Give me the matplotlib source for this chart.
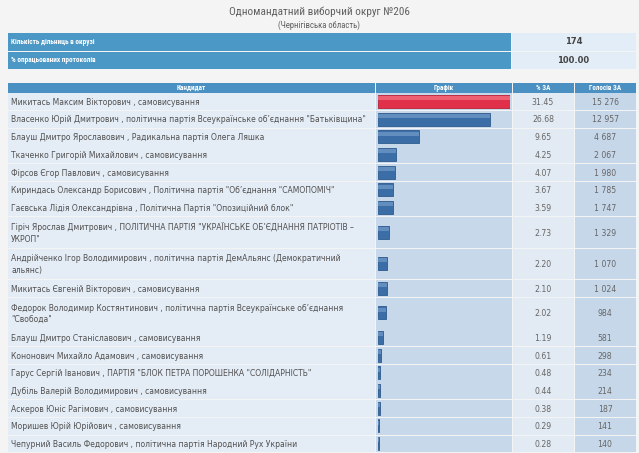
import matplotlib
matplotlib.use("Agg")
import matplotlib.pyplot as plt
from matplotlib.patches import Rectangle

# ---------------- data ----------------
title = "Одномандатний виборчий округ №206"
subtitle = "(Чернігівська область)"
summary_labels = ["Кількість дільниць в окрузі", "% опрацьованих протоколів"]
summary_values = ["174", "100.00"]
headers = ["Кандидат", "Графік", "% ЗА", "Голосів ЗА"]

candidates = [
    "Микитась Максим Вікторович , самовисування",
    "Власенко Юрій Дмитрович , політична партія Всеукраїнське об’єднання \"Батьківщина\"",
    "Блауш Дмитро Ярославович , Радикальна партія Олега Ляшка",
    "Ткаченко Григорій Михайлович , самовисування",
    "Фірсов Єгор Павлович , самовисування",
    "Кириндась Олександр Борисович , Політична партія \"Об’єднання \"САМОПОМІЧ\"",
    "Гаєвська Лідія Олександрівна , Політична Партія \"Опозиційний блок\"",
    "Гіріч Ярослав Дмитрович , ПОЛІТИЧНА ПАРТІЯ \"УКРАЇНСЬКЕ ОБ’ЄДНАННЯ ПАТРІОТІВ –\nУКРОП\"",
    "Андрійченко Ігор Володимирович , політична партія ДемАльянс (Демократичний\nальянс)",
    "Микитась Євгеній Вікторович , самовисування",
    "Федорок Володимир Костянтинович , політична партія Всеукраїнське об’єднання\n\"Свобода\"",
    "Блауш Дмитро Станіславович , самовисування",
    "Кононович Михайло Адамович , самовисування",
    "Гарус Сергій Іванович , ПАРТІЯ \"БЛОК ПЕТРА ПОРОШЕНКА \"СОЛІДАРНІСТЬ\"",
    "Дубіль Валерій Володимирович , самовисування",
    "Аскеров Юніс Рагімович , самовисування",
    "Моришев Юрій Юрійович , самовисування",
    "Чепурний Василь Федорович , політична партія Народний Рух України",
]
pct = [31.45, 26.68, 9.65, 4.25, 4.07, 3.67, 3.59, 2.73, 2.20, 2.10, 2.02,
       1.19, 0.61, 0.48, 0.44, 0.38, 0.29, 0.28]
votes = [15276, 12957, 4687, 2067, 1980, 1785, 1747, 1329, 1070, 1024, 984,
         581, 298, 234, 214, 187, 141, 140]

# ---------------- layout (pixels) ----------------
W, H = 639, 453
fig = plt.figure(figsize=(W / 100, H / 100), dpi=100)
fig.patch.set_facecolor("#f4f4f4")
ax = fig.add_axes([0, 0, 1, 1])
ax.set_xlim(0, W)
ax.set_ylim(H, 0)
ax.axis("off")

NARROW = ["Liberation Sans Narrow", "Roboto Condensed", "Roboto", "DejaVu Sans"]
BODY = ["DejaVu Sans"]

ax.text(W / 2, 12, title, ha="center", va="center", fontsize=8.1,
        color="#606060", family=NARROW)
ax.text(W / 2, 25, subtitle, ha="center", va="center", fontsize=6.2,
        color="#606060", family=NARROW)

# summary table
X0, XS, X1 = 8, 511, 636
sum_rows = [(33, 51), (51.8, 69)]
for (y0, y1), lab, val in zip(sum_rows, summary_labels, summary_values):
    ax.add_patch(Rectangle((X0, y0), XS - X0, y1 - y0, facecolor="#4b98c6",
                           edgecolor="none"))
    ax.add_patch(Rectangle((XS + 0.8, y0), X1 - XS - 0.8, y1 - y0,
                           facecolor="#e3edf7", edgecolor="none"))
    ax.text(X0 + 3, (y0 + y1) / 2, lab, ha="left", va="center", fontsize=5.25,
            color="white", fontweight="bold", family=NARROW)
    ax.text((XS + X1) / 2, (y0 + y1) / 2, val, ha="center", va="center",
            fontsize=6.0, color="#444444", fontweight="bold", family=BODY)

# main table columns
cols = [8, 375, 512, 574, 636]
col_bg = ["#e4ecf5", "#c7d8ea", "#e2eaf3", "#c6d7e9"]
HY0, HY1 = 83, 92.5
for i, h in enumerate(headers):
    ax.add_patch(Rectangle((cols[i] + (0.8 if i else 0), HY0),
                           cols[i + 1] - cols[i] - (0.8 if i else 0),
                           HY1 - HY0, facecolor="#4a90c2", edgecolor="none"))
    ax.text((cols[i] + cols[i + 1]) / 2, (HY0 + HY1) / 2 + 0.3, h,
            ha="center", va="center", fontsize=5.1, color="white",
            fontweight="bold", family=NARROW)

SINGLE, DOUBLE = 17.7, 31.5
tops, centers = [], []
y = HY1
for c in candidates:
    h = DOUBLE if "\n" in c else SINGLE
    tops.append(y)
    centers.append(y + h / 2)
    y += h
bottoms = tops[1:] + [y]

for i, c in enumerate(candidates):
    y0, y1 = tops[i] + 0.8, bottoms[i]
    for j in range(4):
        xa = cols[j] + (0.8 if j else 0)
        ax.add_patch(Rectangle((xa, y0), cols[j + 1] - xa, y1 - y0,
                               facecolor=col_bg[j], edgecolor="none"))
    cy = (y0 + y1) / 2 + 0.5
    ax.text(cols[0] + 3, cy, c, ha="left", va="center", fontsize=5.5,
            color="#505050", family=BODY, linespacing=1.3)
    ax.text((cols[2] + cols[3]) / 2, cy, f"{pct[i]:.2f}", ha="center",
            va="center", fontsize=5.6, color="#666666", family=BODY)
    ax.text((cols[3] + cols[4]) / 2, cy, f"{votes[i]:,}".replace(",", " "),
            ha="center", va="center", fontsize=5.6, color="#666666",
            family=BODY)

# bars axis over the graph column
bx = fig.add_axes([378 / W, 0, (510 - 378) / W, 1])
bx.set_xlim(0, max(pct))
bx.set_ylim(H, 0)
bx.axis("off")
bx.patch.set_alpha(0)
win = pct.index(max(pct))
base = ["#e0304a" if i == win else "#3b6ea6" for i in range(len(pct))]
light = ["#f26b7c" if i == win else "#6c97c6" for i in range(len(pct))]
dark = ["#b82035" if i == win else "#2d5a8c" for i in range(len(pct))]
bx.barh(centers, pct, height=13, color=base, edgecolor=dark, linewidth=0.6)
bx.barh([c - 3.2 for c in centers], pct, height=4, color=light,
        edgecolor="none", alpha=0.8)

fig.savefig("out.png", dpi=100, facecolor=fig.get_facecolor())
